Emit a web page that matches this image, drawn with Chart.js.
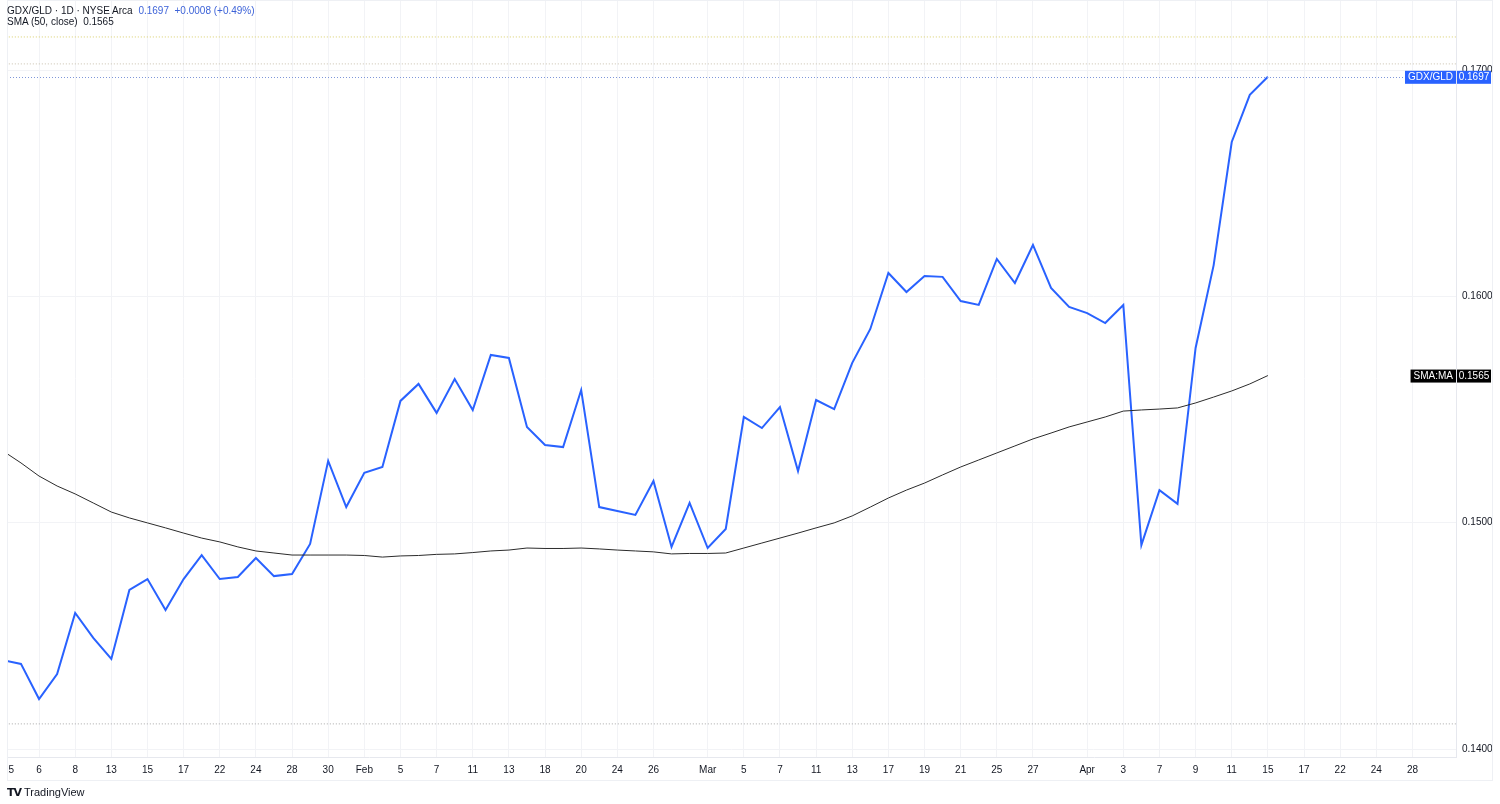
<!DOCTYPE html>
<html>
<head>
<meta charset="utf-8">
<title>GDX/GLD</title>
<script src="https://cdn.jsdelivr.net/npm/chart.js@4.4.1/dist/chart.umd.min.js"></script>
<style>
  html, body { margin: 0; padding: 0; background: #fff; }
  #wrap { position: relative; width: 1500px; height: 804px; font-family: "Liberation Sans", Arial, sans-serif; }
  #legend { position: absolute; left: 7px; top: 5px; font-size: 10px; line-height: 11px; color: #131722; }
  #legend .blue { color: #3d63d8; margin-left: 3px; }
  #brand { position: absolute; left: 7px; top: 786px; font-size: 11px; color: #131722; }
  #brand b { font-family: "DejaVu Sans", sans-serif; font-size: 11px; letter-spacing: -1px; margin-right: 3px; }
</style>
</head>
<body>
<div id="wrap">
  <canvas id="myChart" width="1500" height="804"></canvas>
  <div id="legend">
    <div>GDX/GLD · 1D · NYSE Arca <span class="blue">0.1697&nbsp; +0.0008 (+0.49%)</span></div>
    <div>SMA (50, close)&nbsp; 0.1565</div>
  </div>
  <div id="brand"><b>TV</b>TradingView</div>
</div>
<script>
// trading days, Jan 2 - Apr 15 2025
const dates = [
  'Jan 2','Jan 3','Jan 6','Jan 7','Jan 8','Jan 10','Jan 13','Jan 14','Jan 15','Jan 16',
  'Jan 17','Jan 21','Jan 22','Jan 23','Jan 24','Jan 27','Jan 28','Jan 29','Jan 30','Jan 31',
  'Feb 3','Feb 4','Feb 5','Feb 6','Feb 7','Feb 10','Feb 11','Feb 12','Feb 13','Feb 14',
  'Feb 18','Feb 19','Feb 20','Feb 21','Feb 24','Feb 25','Feb 26','Feb 27','Feb 28',
  'Mar 3','Mar 4','Mar 5','Mar 6','Mar 7','Mar 10','Mar 11','Mar 12','Mar 13','Mar 14',
  'Mar 17','Mar 18','Mar 19','Mar 20','Mar 21','Mar 24','Mar 25','Mar 26','Mar 27','Mar 28','Mar 31',
  'Apr 1','Apr 2','Apr 3','Apr 4','Apr 7','Apr 8','Apr 9','Apr 10','Apr 11','Apr 14','Apr 15'
];

const gdxGld = [
  0.14393,0.14376,0.14221,0.14331,0.14601,0.14491,0.14398,0.14703,0.14751,0.14614,
  0.14751,0.14857,0.14751,0.14760,0.14844,0.14764,0.14773,0.14906,0.15273,0.15069,
  0.15220,0.15246,0.15538,0.15613,0.15485,0.15635,0.15498,0.15741,0.15728,0.15423,
  0.15343,0.15334,0.15586,0.15069,0.15052,0.15034,0.15184,0.14893,0.15087,
  0.14888,0.14972,0.15467,0.15418,0.15511,0.15228,0.15542,0.15502,0.15706,0.15856,
  0.16103,0.16019,0.16090,0.16086,0.15979,0.15962,0.16165,0.16059,0.16227,0.16037,0.15953,
  0.15926,0.15882,0.15962,0.14901,0.15144,0.15083,0.15772,0.16138,0.16682,0.16890,0.16970
];

const sma50 = [
  0.15317,0.15264,0.15206,0.15162,0.15127,0.15087,0.15047,0.15021,0.14999,0.14977,
  0.14954,0.14932,0.14915,0.14893,0.14875,0.14866,0.14857,0.14857,0.14857,0.14857,
  0.14855,0.14848,0.14853,0.14855,0.14860,0.14862,0.14868,0.14875,0.14879,0.14888,
  0.14886,0.14886,0.14888,0.14884,0.14879,0.14875,0.14871,0.14862,0.14864,
  0.14864,0.14866,0.14888,0.14910,0.14932,0.14954,0.14977,0.14999,0.15030,0.15069,
  0.15109,0.15144,0.15175,0.15211,0.15246,0.15277,0.15308,0.15339,0.15370,0.15396,0.15423,
  0.15445,0.15467,0.15493,0.15498,0.15502,0.15507,0.15529,0.15555,0.15582,0.15613,0.15650
];

// dotted level lines (high / prev / low)
const levelValues = [0.17146, 0.17027, 0.14111];
const levelColors = ['#d9cf6a', '#c9bfae', '#a8a8a8'];

// x tick positions (index into dates, extends into future) and their labels
const tickIdx = [2,4,6,8,10,12,14,16,18,20,22,24,26,28,30,32,34,36,39,41,43,45,47,49,51,53,55,57,60,62,64,66,68,70,72,74,76,78];
const tickLabels = ['6','8','13','15','17','22','24','28','30','Feb','5','7','11','13','18','20','24','26','Mar','5','7','11','13','17','19','21','25','27','Apr','3','7','9','11','15','17','22','24','28'];
const yearLabel = '2025';

const yTicks = [0.14, 0.15, 0.16, 0.17];

const X_MIN = 0.227, X_MAX = 80.41;
const Y_MIN = 0.139647, Y_MAX = 0.173093;

const toPts = arr => arr.map((v, i) => ({ x: i, y: v }));
const levelSets = levelValues.map((v, i) => ({
  data: [{ x: -1, y: v }, { x: X_MAX + 1, y: v }],
  borderColor: levelColors[i],
  borderWidth: 1,
  borderDash: [1, 2],
  pointRadius: 0
}));

const font = { family: '"Liberation Sans", Arial, sans-serif', size: 10 };

const extras = {
  id: 'extras',
  afterDatasetsDraw(chart) {
    const ctx = chart.ctx;
    const area = chart.chartArea;
    const xs = chart.scales.x, ys = chart.scales.y;

    // year label, clipped at the pane edge
    ctx.save();
    ctx.beginPath();
    ctx.rect(area.left, area.bottom, area.right - area.left, 30);
    ctx.clip();
    ctx.font = '10px ' + font.family;
    ctx.fillStyle = '#131722';
    ctx.textAlign = 'center';
    ctx.textBaseline = 'middle';
    ctx.fillText(yearLabel, xs.getPixelForValue(0), area.bottom + 13);
    ctx.restore();

    // price line for last value
    const lastY = ys.getPixelForValue(gdxGld[gdxGld.length - 1]);
    ctx.save();
    ctx.strokeStyle = '#7f97d9';
    ctx.setLineDash([1, 2]);
    ctx.lineWidth = 1;
    ctx.beginPath();
    ctx.moveTo(area.left, Math.round(lastY) + 0.5);
    ctx.lineTo(area.right, Math.round(lastY) + 0.5);
    ctx.stroke();
    ctx.restore();

    // right side label boxes
    const boxes = [
      { name: 'GDX/GLD', val: gdxGld[gdxGld.length - 1], bg: '#2962ff' },
      { name: 'SMA:MA', val: sma50[sma50.length - 1], bg: '#000000' }
    ];
    ctx.save();
    ctx.font = '10px ' + font.family;
    ctx.textBaseline = 'middle';
    boxes.forEach(b => {
      const y = ys.getPixelForValue(b.val);
      const nameW = ctx.measureText(b.name).width + 6;
      ctx.fillStyle = b.bg;
      ctx.fillRect(area.right - nameW, y - 6, nameW, 13);
      ctx.fillRect(area.right + 1, y - 6, 34, 13);
      ctx.fillStyle = '#ffffff';
      ctx.textAlign = 'center';
      ctx.fillText(b.name, area.right - nameW / 2, y + 0.5);
      ctx.fillText(b.val.toFixed(4), area.right + 18, y + 0.5);
    });
    ctx.restore();

    // pane frame
    ctx.save();
    ctx.strokeStyle = '#eef0f4';
    ctx.lineWidth = 1;
    ctx.strokeRect(area.left + 0.5, 0.5, 1492 - area.left, xs.bottom);
    ctx.restore();
  }
};

const ctx = document.getElementById('myChart').getContext('2d');
const myChart = new Chart(ctx, {
  type: 'line',
  data: {
    datasets: [
      ...levelSets,
      {
        label: 'SMA (50, close)',
        data: toPts(sma50),
        borderColor: '#2b2b2b',
        borderWidth: 1,
        pointRadius: 0,
        tension: 0
      },
      {
        label: 'GDX/GLD',
        data: toPts(gdxGld),
        borderColor: '#2962ff',
        borderWidth: 2,
        pointRadius: 0,
        tension: 0
      }
    ]
  },
  options: {
    responsive: false,
    animation: false,
    events: [],
    layout: { padding: { left: 7, right: 0, top: 0, bottom: 24 } },
    plugins: { legend: { display: false }, tooltip: { enabled: false } },
    scales: {
      x: {
        type: 'linear',
        min: X_MIN,
        max: X_MAX,
        afterBuildTicks: s => { s.ticks = tickIdx.map(v => ({ value: v })); },
        afterFit: s => { s.height = 23; s.paddingLeft = 0; s.paddingRight = 0; },
        ticks: {
          autoSkip: false,
          maxRotation: 0,
          padding: 7,
          color: '#131722',
          font: font,
          callback: v => tickLabels[tickIdx.indexOf(v)]
        },
        grid: { color: '#f2f3f6', drawTicks: false },
        border: { color: '#e6e8ee' }
      },
      y: {
        position: 'right',
        min: Y_MIN,
        max: Y_MAX,
        afterBuildTicks: s => { s.ticks = yTicks.map(v => ({ value: v })); },
        afterFit: s => { s.width = 44; s.paddingTop = 0; s.paddingBottom = 0; },
        ticks: {
          padding: 6,
          color: '#131722',
          font: font,
          callback: v => v.toFixed(4)
        },
        grid: { color: '#f2f3f6', drawTicks: false },
        border: { color: '#e6e8ee' }
      }
    }
  },
  plugins: [extras]
});
</script>
</body>
</html>
